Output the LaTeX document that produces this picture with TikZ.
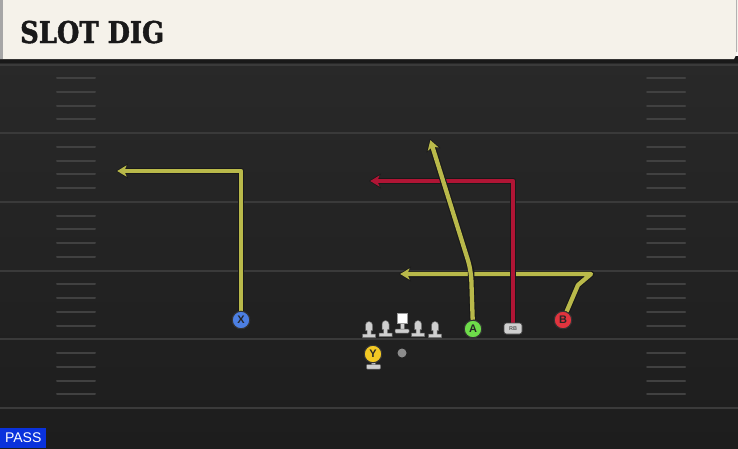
\documentclass[tikz,border=0pt]{standalone}
\usepackage{fontspec}
\setmainfont{Liberation Sans}
\newfontfamily\titlefont{DejaVu Serif}[BoldFeatures={FakeBold=1.6}]
\usetikzlibrary{arrows.meta}
\definecolor{cream}{HTML}{F5F2EA}
\definecolor{fieldtop}{HTML}{292929}
\definecolor{fieldbot}{HTML}{1D1D1D}
\definecolor{yardc}{HTML}{3A3A3A}
\definecolor{hashc}{HTML}{414141}
\definecolor{routey}{HTML}{B9B94A}
\definecolor{router}{HTML}{B01535}
\definecolor{xblue}{HTML}{4C7FE2}
\definecolor{agreen}{HTML}{6EDC4A}
\definecolor{bred}{HTML}{E0343E}
\definecolor{yyel}{HTML}{F2C824}
\definecolor{lmgrey}{HTML}{CFCFCF}
\definecolor{passblue}{HTML}{0A32DC}
\pgfdeclarelayer{bg}
\pgfdeclarelayer{rt}
\pgfsetlayers{bg,rt,main}
\newcommand\routeline[2]{%
  \draw[routeout] #2;
  \draw[route,#1] #2;}
\begin{document}
\begin{tikzpicture}[x=1pt,y=-1pt,
  yard/.style={draw=yardc,line width=2pt},
  hash/.style={draw=hashc,line width=2pt,line cap=round},
  routeout/.style={draw=black!90,line width=6.5pt,line join=round,
    -{Stealth[length=12pt,width=15pt,inset=3.5pt,line width=0pt]}},
  route/.style={draw=routey,line width=4.3pt,line join=round,
    -{Stealth[length=9.5pt,width=11.5pt,inset=2.5pt,line width=0pt]},
    shorten >=1.2pt},
  player/.style={circle,minimum size=17.5pt,inner sep=0pt,draw=black!80,
    line width=1pt,font=\bfseries\fontsize{11}{11}\selectfont,text=black!85},
  lm/.style={fill=lmgrey,draw=black!60,line width=0.5pt},
  lineman/.pic={
    \path[lm] (-3.5,-4.5) arc[start angle=180,end angle=360,radius=3.5]
      -- (3.5,1) -- (2,1) -- (2,4.5) -- (6.5,4.5) -- (6.5,8) -- (-6.5,8)
      -- (-6.5,4.5) -- (-2,4.5) -- (-2,1) -- (-3.5,1) -- cycle;
  }]
\useasboundingbox (0,0) rectangle (738,448);
\begin{pgfonlayer}{bg}
  % field
  \shade[top color=fieldtop,bottom color=fieldbot] (0,58) rectangle (738,448);
  % yard lines
  \foreach \k in {0,...,5}{
    \draw[yard] (0,64.5+68.7*\k) -- (738,64.5+68.7*\k);
  }
  % hash marks
  \foreach \k in {0,...,4}{
    \foreach \j in {1,...,4}{
      \draw[hash] (57,64.5+68.7*\k+13.74*\j) -- (95,64.5+68.7*\k+13.74*\j);
      \draw[hash] (647,64.5+68.7*\k+13.74*\j) -- (685,64.5+68.7*\k+13.74*\j);
    }
  }
  % header
  \fill[black!90] (0,56) rectangle (738,62.5);
  \fill[cream] (0,0) -- (738,0) -- (738,51) -- (734,59) -- (0,59) -- cycle;
  \fill[black!35] (0,0) rectangle (3,59);
  \draw[black!30,line width=0.6pt] (736.5,0) -- (736.5,52);
\end{pgfonlayer}
\node[anchor=base west,inner sep=0pt,text=black!90] (title) at (20,43)
  {\titlefont\bfseries\fontsize{30}{30}\selectfont\scalebox{0.86}[1]{SLOT DIG}};
% PASS label
\node[anchor=south west,fill=passblue,text=white,minimum width=46pt,
  minimum height=20pt,inner sep=0pt,font=\fontsize{14}{14}\selectfont] (pass)
  at (0,448) {PASS};
% players
\node[player,fill=xblue] (X) at (241,320) {X};
\node[player,fill=agreen] (A) at (473,329) {A};
\node[player,fill=bred] (B) at (563,320) {B};
\fill[lmgrey,draw=black!60,line width=0.5pt] (371,360) rectangle (375,365);
\fill[lmgrey,draw=black!60,line width=0.5pt,rounded corners=0.8pt] (366.5,364.5) rectangle (380.5,369);
\node[player,fill=yyel] (Y) at (373,354) {Y};
\node[fill=lmgrey,draw=black!70,line width=0.6pt,rounded corners=2.5pt,
  minimum width=18pt,minimum height=11pt,inner sep=0pt,
  font=\bfseries\fontsize{5.5}{5.5}\selectfont,text=black!65] (RB) at (513,328.5) {RB};
\node[circle,fill=black!45,minimum size=9pt,inner sep=0pt] (ball) at (402,353) {};
% line
\pic at (369,329.5) {lineman};
\pic at (385.5,328.5) {lineman};
\pic at (418,328.5) {lineman};
\pic at (435,329.5) {lineman};
\fill[lmgrey,draw=black!60,line width=0.5pt] (400,322) rectangle (404,329.5);
\fill[lmgrey,draw=black!60,line width=0.5pt,rounded corners=0.8pt] (395,329) rectangle (409,333);
\node[fill=white,draw=black!40,line width=0.5pt,minimum size=10pt,inner sep=0pt] (C) at (402,318) {};
% route end points
\coordinate (xe) at (116,171);
\coordinate (rbe) at (369,181);
\coordinate (a1) at (471,270);
\coordinate (ae) at (430,139);
\coordinate (b1) at (578,285);
\coordinate (b2) at (591,274);
\coordinate (be) at (399,274);
\begin{pgfonlayer}{rt}
  \routeline{}{(B) -- (b1) -- (b2) -- (be)}
  \routeline{draw=router}{(RB) |- (rbe)}
  \routeline{rounded corners=10pt}{(A) -- (a1) -- (ae)}
  \routeline{}{(X) |- (xe)}
\end{pgfonlayer}
\end{tikzpicture}
\end{document}
